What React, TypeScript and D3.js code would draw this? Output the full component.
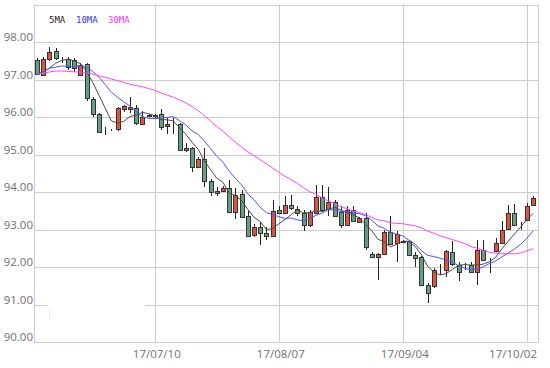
import React from 'react';
import * as d3 from 'd3';

// ---- data ----
const opens = [
  97.52, 97.12, 97.54, 97.76, 97.53, 97.54, 97.52, 97.12, 97.41, 96.47,
  96.08, 95.64, 95.65, 95.67, 96.21, 96.21, 96.23, 95.81, 96.03, 96.04,
  96.07, 95.76, 95.84, 95.81, 95.11, 95.17, 94.67, 94.87, 94.29, 93.97,
  94.03, 94.11, 93.47, 93.94, 93.36, 92.84, 93.07, 92.91, 92.83, 93.53,
  93.45, 93.65, 93.55, 93.45, 93.12, 93.45, 93.87, 93.54, 93.73, 93.47,
  93.12, 93.51, 93.21, 93.32, 92.35, 92.27, 92.35, 92.92, 92.63, 92.67,
  92.68, 92.31, 92.27, 91.53, 91.48, 91.91, 91.92, 92.41, 92.04, 92.03,
  92.05, 91.86, 92.45, 92.19, 92.43, 92.63, 93.01, 93.45, 93.12, 93.25, 93.65,
];
const highs = [
  97.57, 97.6, 97.875, 97.83, 97.59, 97.59, 97.565, 97.43, 97.44, 96.54,
  96.11, 95.73, 95.68, 96.27, 96.32, 96.53, 96.32, 96.16, 96.07, 96.09,
  96.21, 95.97, 95.97, 95.84, 95.3, 95.21, 94.93, 95.17, 94.34, 94.14,
  94.17, 94.32, 94.1, 94.05, 93.49, 93.15, 93.2, 93.07, 93.79, 93.63,
  93.89, 93.92, 93.63, 93.52, 93.52, 94.19, 94.19, 94.12, 93.79, 93.63,
  93.63, 93.63, 93.33, 93.44, 92.39, 92.37, 92.99, 93.37, 92.96, 92.72,
  92.72, 92.4, 92.29, 91.56, 91.97, 92.09, 92.45, 92.69, 92.13, 92.11,
  92.13, 92.72, 92.72, 92.23, 92.77, 93.23, 93.64, 93.67, 93.21, 93.71, 93.89,
];
const lows = [
  97.13, 97.09, 97.5, 97.52, 97.45, 97.25, 97.21, 97.09, 96.43, 96.01,
  95.57, 95.52, 95.62, 95.64, 96.14, 96.11, 95.8, 95.79, 96.0, 95.97,
  95.65, 95.54, 95.55, 95.09, 95.07, 94.53, 94.65, 94.12, 93.89, 93.89,
  93.99, 93.43, 93.28, 93.31, 92.81, 92.81, 92.59, 92.73, 92.81, 93.41,
  93.43, 93.52, 93.36, 92.97, 93.07, 93.43, 93.47, 93.35, 93.33, 93.03,
  93.09, 93.21, 93.19, 92.45, 92.23, 91.64, 92.32, 92.59, 92.13, 92.63,
  92.29, 92.01, 91.49, 91.03, 91.45, 91.79, 91.74, 92.03, 91.63, 91.92,
  91.84, 91.52, 92.16, 91.83, 92.4, 92.61, 92.99, 93.09, 92.99, 93.23, 93.63,
];
const closes = [
  97.16, 97.55, 97.74, 97.57, 97.52, 97.34, 97.3, 97.39, 96.5, 96.07,
  95.61, 95.63, 95.66, 96.23, 96.28, 96.27, 95.83, 96.01, 96.04, 96.03,
  95.74, 95.81, 95.85, 95.13, 95.18, 94.67, 94.87, 94.28, 93.99, 94.03,
  94.11, 93.47, 93.92, 93.34, 92.83, 93.07, 92.91, 92.83, 93.49, 93.45,
  93.65, 93.56, 93.44, 93.12, 93.47, 93.87, 93.52, 93.73, 93.36, 93.12,
  93.51, 93.24, 93.31, 92.53, 92.26, 92.35, 92.93, 92.61, 92.87, 92.68,
  92.33, 92.25, 91.52, 91.32, 91.93, 91.92, 92.43, 92.08, 91.87, 92.02,
  91.86, 92.45, 92.19, 92.19, 92.63, 92.99, 93.45, 93.12, 93.12, 93.63, 93.83,
];
// closes before the visible window (needed for the moving averages)
const priorCloses = [
  96.9, 97.0, 96.95, 97.5, 97.6, 97.55, 97.65, 96.9, 96.92, 96.8,
  96.65, 96.7, 97.4, 97.45, 97.43, 96.8, 96.7, 97.3, 97.18, 97.49,
  97.3, 97.24, 96.9, 97.15,
];
const yTicks = [90, 91, 92, 93, 94, 95, 96, 97, 98];
const xTickIndex = [19, 39, 59, 79];
const xTickLabels = ['17/07/10', '17/08/07', '17/09/04', '17/10/02'];
const maPeriods = [5, 10, 25];
const maNames = ['5MA', '10MA', '30MA'];

// ---- styles ----
const maColors = ['#4a4a4a', '#5050ff', '#ff44ff'];
const legendColors = ['#222222', '#3333ff', '#ff33ff'];
const UP = '#e0533c';
const DOWN = '#62a07f';

export default function App() {
  const W = 550, H = 368;
  const left = 34, right = 538, top = 4.5, bottom = 342;
  const n = closes.length;
  const x = d3.scaleLinear().domain([0, n - 1]).range([37, 533]);
  const y = d3.scaleLinear().domain([90, 99]).range([bottom, top]);

  const all = priorCloses.concat(closes);
  const off = priorCloses.length;
  const mas = maPeriods.map((p) =>
    closes.map((_, i) => d3.mean(all.slice(off + i - p + 1, off + i + 1)) as number)
  );
  const line = d3
    .line<number>()
    .x((_, i) => x(i))
    .y((v) => y(v));

  const crisp = (v: number) => Math.round(v) + 0.5;
  const font = "'Open Sans', 'DejaVu Sans', sans-serif";

  return (
    <svg
      width={W}
      height={H}
      style={{ position: 'absolute', left: 0, top: 0, background: '#fff' }}
    >
      <rect x={0} y={0} width={W} height={H} fill="#fff" />
      {/* horizontal grid */}
      {yTicks.concat([99]).map((t) => (
        <line key={'h' + t} x1={left} x2={right} y1={crisp(y(t))} y2={crisp(y(t))}
          stroke={t === 90 ? '#c4cbdc' : '#cccccc'} strokeWidth={1} />
      ))}
      {/* vertical grid */}
      {xTickIndex.map((ti) => (
        <line key={'v' + ti} x1={crisp(x(ti))} x2={crisp(x(ti))} y1={top} y2={bottom}
          stroke="#cccccc" strokeWidth={1} />
      ))}
      <line x1={right + 0.5} x2={right + 0.5} y1={top} y2={bottom} stroke="#cccccc" />
      <line x1={left + 0.5} x2={left + 0.5} y1={top} y2={bottom + 0.5} stroke="#c4cbdc" />
      {/* blank box over the 91 grid line */}
      <rect x={48} y={299} width={97} height={22} fill="#fff" />
      <line x1={49.5} x2={49.5} y1={308} y2={320} stroke="#eeeeee" />

      {/* y labels */}
      {yTicks.map((t) => (
        <text key={'yl' + t} x={33} y={Math.round(y(t)) - 1} textAnchor="end"
          fontFamily={font} fontSize={11.5} fill="#707070">
          {t.toFixed(2)}
        </text>
      ))}
      {/* x labels */}
      {xTickIndex.map((ti, k) => {
        const cx = x(ti) + 2;
        const last = cx + 26 > right;
        return (
          <text key={'xl' + ti} x={last ? right - 1 : cx} y={358}
            textAnchor={last ? 'end' : 'middle'} fontFamily={font} fontSize={11.5} fill="#707070">
            {xTickLabels[k]}
          </text>
        );
      })}

      {/* candles */}
      {closes.map((c, i) => {
        const o = opens[i];
        const cx = Math.round(x(i));
        const up = c > o;
        const y1 = Math.round(y(Math.max(o, c)));
        const y2 = Math.round(y(Math.min(o, c)));
        const h = Math.max(0, y2 - y1);
        return (
          <g key={'c' + i}>
            <line x1={cx + 0.5} x2={cx + 0.5} y1={Math.round(y(highs[i]))} y2={Math.round(y(lows[i]))}
              stroke="#222" strokeWidth={1} />
            <rect x={cx - 1.5} y={y1 + 0.5} width={4} height={h}
              fill={Math.abs(c - o) < 0.015 ? '#222' : up ? UP : DOWN} stroke="#333" strokeWidth={1} />
          </g>
        );
      })}

      {/* moving averages */}
      {mas.map((m, k) => (
        <path key={'ma' + k} d={line(m) || ''} fill="none" stroke={maColors[k]} strokeWidth={1} />
      ))}

      {/* legend */}
      {maNames.map((nm, k) => (
        <text key={'lg' + k} x={[49, 76, 108][k]} y={22.5}
          fontFamily="'DejaVu Sans Mono', monospace" fontSize={9} fill={legendColors[k]}>
          {nm}
        </text>
      ))}
    </svg>
  );
}
